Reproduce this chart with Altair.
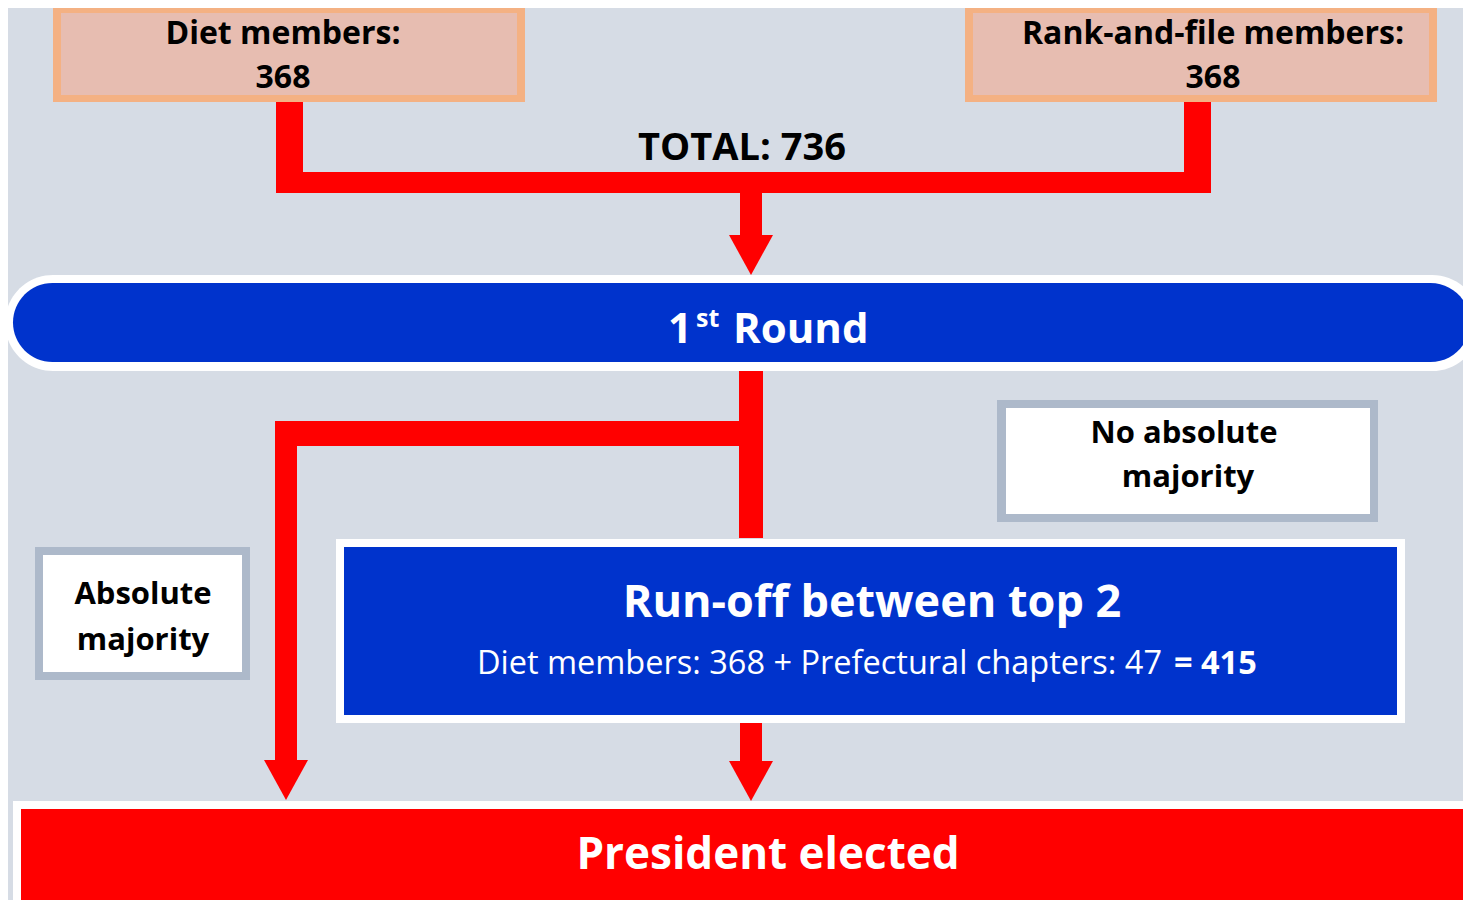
import altair as alt
import pandas as pd

BG = "#D6DCE5"
RED = "#FF0000"
BLUE = "#0033CC"
ORANGE = "#F4B183"
PEACH = "#E7BDB1"
GREY = "#ADB9CA"
WHITE = "#FFFFFF"
FONT = "Open Sans"

# ---- plain boxes (outer frame drawn first, fill on top); image pixel layout ----
box_x0 = [53, 61, 965, 973, 997, 1006, 35, 43, 336, 344, 13, 21]
box_x1 = [525, 517, 1437, 1429, 1378, 1370, 250, 242, 1405, 1397, 1480, 1469]
box_y0 = [6, 13, 5, 13, 400, 408, 547, 555, 539, 547, 801, 809]
box_y1 = [102, 95, 102, 95, 522, 514, 680, 672, 723, 715, 915, 908]
box_col = [ORANGE, PEACH, ORANGE, PEACH, GREY, WHITE, GREY, WHITE, WHITE, BLUE, WHITE, RED]

# ---- red connector bars ----
bar_x0 = [276, 276, 1184, 739, 275, 275, 740, 740]
bar_x1 = [303, 1211, 1211, 763, 763, 297, 762, 762]
bar_y0 = [102, 172, 102, 371, 421, 421, 193, 723]
bar_y1 = [193, 193, 193, 538, 446, 762, 237, 767]

# ---- rounded "1st Round" pill ----
pill_x0 = [5, 13]
pill_x1 = [1480, 1470]
pill_y0 = [275, 283]
pill_y1 = [371, 362]

# ---- arrow heads (centre of each triangle) ----
head_x = [751, 286, 751]
head_y = [255, 780, 781]

# ---- texts ----
bold_text = ["Diet members:", "368", "Rank-and-file members:", "368", "TOTAL: 736",
             "No absolute", "majority", "Absolute", "majority",
             "Run-off between top 2", "President elected", "1"]
bold_x = [283, 283, 1213, 1213, 742, 1184, 1188, 143, 143, 872, 768, 692]
bold_y = [44, 88, 44, 88, 160, 443, 487, 604, 650, 617, 869, 343]
bold_size = [32, 32, 32, 32, 38, 31, 31, 31, 31, 45, 44, 42]
bold_col = ["#000000"] * 9 + [WHITE, WHITE, WHITE]
bold_align = ["center"] * 11 + ["right"]

left_text = ["Round", "st", "= 415"]
left_x = [733, 696, 1174]
left_y = [343, 327, 674]
left_size = [42, 25, 32.5]

reg_text = ["Diet members: 368 + Prefectural chapters: 47"]
reg_x = [1162]
reg_y = [674]
reg_size = [32.5]

# visible window of the page (image pixels); page margin is 8px
VIEW_W = 1455
VIEW_H = 892
xs = alt.Scale(domain=[8, 8 + VIEW_W], nice=False, zero=False)
ys = alt.Scale(domain=[8 + VIEW_H, 8], nice=False, zero=False)


def X(f):
    return alt.X(f, type="quantitative", scale=xs, axis=None)


def Y(f):
    return alt.Y(f, type="quantitative", scale=ys, axis=None)


boxes = pd.DataFrame({"x0": box_x0, "x1": box_x1, "y0": box_y0, "y1": box_y1, "c": box_col,
                      "o": list(range(len(box_x0)))})
bars = pd.DataFrame({"x0": bar_x0, "x1": bar_x1, "y0": bar_y0, "y1": bar_y1})
pill_outer = pd.DataFrame({"x0": pill_x0[:1], "x1": pill_x1[:1], "y0": pill_y0[:1], "y1": pill_y1[:1]})
pill_inner = pd.DataFrame({"x0": pill_x0[1:], "x1": pill_x1[1:], "y0": pill_y0[1:], "y1": pill_y1[1:]})
heads = pd.DataFrame({"x": head_x, "y": head_y})
tb = pd.DataFrame({"x": bold_x, "y": bold_y, "t": bold_text, "s": bold_size, "c": bold_col, "a": bold_align})
tl = pd.DataFrame({"x": left_x, "y": left_y, "t": left_text, "s": left_size})
tr = pd.DataFrame({"x": reg_x, "y": reg_y, "t": reg_text, "s": reg_size})

box_layer = alt.Chart(boxes).mark_rect(clip=True).encode(
    x=X("x0"), x2="x1", y=Y("y0"), y2="y1",
    color=alt.Color("c:N", scale=None), order=alt.Order("o:Q"))

bar_layer = alt.Chart(bars).mark_rect(color=RED, clip=True).encode(
    x=X("x0"), x2="x1", y=Y("y0"), y2="y1")

pill_o = alt.Chart(pill_outer).mark_rect(color=WHITE, cornerRadius=48, clip=True).encode(
    x=X("x0"), x2="x1", y=Y("y0"), y2="y1")
pill_i = alt.Chart(pill_inner).mark_rect(color=BLUE, cornerRadius=40, clip=True).encode(
    x=X("x0"), x2="x1", y=Y("y0"), y2="y1")

head_layer = alt.Chart(heads).mark_point(
    shape="M-1,-0.91L1,-0.91L0,0.91Z", filled=True, size=1936, opacity=1,
    strokeWidth=0, color=RED).encode(x=X("x"), y=Y("y"))

tb_center = alt.Chart(tb[tb.a == "center"]).mark_text(
    font=FONT, fontWeight="bold", baseline="alphabetic", align="center").encode(
    x=X("x"), y=Y("y"), text="t:N", size=alt.Size("s:Q", scale=None),
    color=alt.Color("c:N", scale=None))
tb_right = alt.Chart(tb[tb.a == "right"]).mark_text(
    font=FONT, fontWeight="bold", baseline="alphabetic", align="right").encode(
    x=X("x"), y=Y("y"), text="t:N", size=alt.Size("s:Q", scale=None),
    color=alt.Color("c:N", scale=None))
tl_layer = alt.Chart(tl).mark_text(
    font=FONT, fontWeight="bold", baseline="alphabetic", align="left", color=WHITE).encode(
    x=X("x"), y=Y("y"), text="t:N", size=alt.Size("s:Q", scale=None))
tr_layer = alt.Chart(tr).mark_text(
    font=FONT, fontWeight="normal", baseline="alphabetic", align="right", color=WHITE).encode(
    x=X("x"), y=Y("y"), text="t:N", size=alt.Size("s:Q", scale=None))

chart = alt.layer(
    box_layer, bar_layer, pill_o, pill_i, head_layer,
    tb_center, tb_right, tl_layer, tr_layer
).properties(
    width=VIEW_W, height=VIEW_H, padding=0, autosize=alt.AutoSizeParams(type="none"),
    background=BG
).configure_view(stroke=None)

chart.save("out.html", embed_options={"renderer": "svg", "actions": False})
